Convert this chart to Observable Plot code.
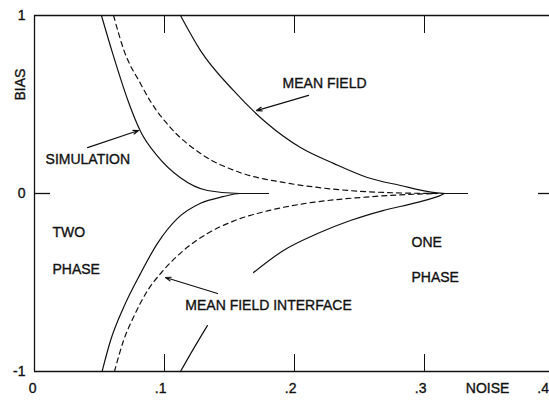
<!DOCTYPE html>
<html><head><meta charset="utf-8">
<script src="https://cdn.jsdelivr.net/npm/d3@7"></script>
<script src="https://cdn.jsdelivr.net/npm/@observablehq/plot@0.6"></script>
<style>html,body{margin:0;padding:0;background:#fff;overflow:hidden}</style>
</head><body><div id="chart"></div>
<script>
// Axis ticks
const xTicks = [0, 0.1, 0.2, 0.3];
const xTickLabels = ["0", ".1", ".2", ".3"];
const xEdgeTick = [0.4];
const xEdgeLabel = [".4"];
const yTicks = [-1, 0, 1];
const yTickLabels = ["-1", "0", "1"];
const innerXTicks = [0.1, 0.2, 0.3];

// Simulation (solid, inner)
const simTopX = [0.0515, 0.060, 0.072, 0.0815, 0.0946, 0.112, 0.133, 0.158, 0.18];
const simTopY = [1, 0.79, 0.52, 0.35, 0.21, 0.09, 0.017, 0, 0];
const simBotX = [0.052, 0.0585, 0.0685, 0.0815, 0.0946, 0.11, 0.1277, 0.145, 0.158, 0.18];
const simBotY = [-1, -0.826, -0.64, -0.45, -0.28, -0.14, -0.055, -0.018, 0, 0];

// Mean field interface (dashed)
const mfiTopX = [0.0608, 0.069, 0.0815, 0.089, 0.1046, 0.1277, 0.158, 0.1915, 0.218, 0.243, 0.268, 0.31];
const mfiTopY = [1, 0.80, 0.618, 0.52, 0.37, 0.225, 0.118, 0.062, 0.034, 0.016, 0.006, 0];
const mfiBotX = [0.0615, 0.0685, 0.076, 0.087, 0.099, 0.1146, 0.133, 0.153, 0.179, 0.2046, 0.23, 0.255, 0.28, 0.31];
const mfiBotY = [-1, -0.826, -0.697, -0.545, -0.433, -0.32, -0.225, -0.155, -0.098, -0.06, -0.036, -0.02, -0.008, 0];

// Mean field (solid, outer); lower branch broken around the label
const mfTopX = [0.1123, 0.1277, 0.153, 0.179, 0.2046, 0.230, 0.256, 0.2815, 0.305, 0.316, 0.333];
const mfTopY = [1, 0.803, 0.579, 0.393, 0.258, 0.169, 0.09, 0.045, 0.008, 0, 0];
const mfBotX = [0.1123, 0.1225, 0.133, 0.15, 0.1685, 0.1915, 0.2177, 0.243, 0.268, 0.2946, 0.312, 0.316, 0.333];
const mfBotY = [-1, -0.87, -0.742, NaN, -0.444, -0.32, -0.225, -0.152, -0.096, -0.05, -0.012, 0, 0];

// Annotations (data units)
const labelText = ["MEAN FIELD", "SIMULATION", "MEAN FIELD INTERFACE", "TWO", "PHASE", "ONE", "PHASE"];
const labelX = [0.1908, 0.0085, 0.116, 0.0138, 0.0138, 0.29, 0.29];
const labelY = [0.618, 0.191, -0.629, -0.219, -0.427, -0.275, -0.472];
const arrowX1 = [0.2108, 0.0408, 0.1408];
const arrowY1 = [0.551, 0.258, -0.562];
const arrowX2 = [0.1708, 0.080, 0.1008];
const arrowY2 = [0.466, 0.354, -0.472];

const toPts = (xs, ys) => xs.map((x, i) => ({x, y: ys[i]}));
const labels = labelText.map((t, i) => ({t, x: labelX[i], y: labelY[i]}));
const arrows = arrowX1.map((x1, i) => ({x1, y1: arrowY1[i], x2: arrowX2[i], y2: arrowY2[i]}));

const ink = "#111";
const lineOpts = {x: "x", y: "y", stroke: ink, strokeWidth: 1.2, curve: "monotone-x"};
const txt = {fontSize: 14, fill: ink, stroke: ink, strokeWidth: 0.35};

const chart = Plot.plot({
  width: 549, height: 402,
  marginLeft: 34, marginRight: 0, marginTop: 15, marginBottom: 31,
  style: {fontFamily: "'Liberation Sans', Arial, sans-serif", fontSize: "14px", background: "#fff", color: ink},
  x: {domain: [0, 0.4], range: [34, 554], axis: null},
  y: {domain: [-1, 1], axis: null},
  marks: [
    Plot.ruleY([1, -1], {stroke: ink, strokeWidth: 1.3}),
    Plot.ruleX([0], {stroke: ink, strokeWidth: 1.3}),
    Plot.tickX(innerXTicks, {x: d => d, insetBottom: 338, stroke: ink}),
    Plot.tickX(innerXTicks, {x: d => d, insetTop: 339, stroke: ink}),
    Plot.tickY([0], {y: d => d, insetRight: 499, stroke: ink, strokeWidth: 1.3}),
    Plot.tickY([0], {y: d => d, insetLeft: 504, stroke: ink, strokeWidth: 1.3}),
    Plot.text(xTicks, {x: d => d, text: (d, i) => xTickLabels[i], frameAnchor: "bottom", dy: 21, textAnchor: "end", dx: 2, ...txt}),
    Plot.text(xEdgeTick, {x: d => d, text: (d, i) => xEdgeLabel[i], frameAnchor: "bottom", dy: 21, textAnchor: "end", dx: -5.5, ...txt}),
    Plot.text(yTicks, {y: d => d, text: (d, i) => yTickLabels[i], frameAnchor: "left", textAnchor: "end", dx: -9, ...txt}),
    Plot.text(["NOISE"], {x: () => 0.3485, frameAnchor: "bottom", dy: 21, ...txt}),
    Plot.text(["BIAS"], {x: () => 0, y: () => 0.612, rotate: -90, dx: -14, ...txt}),
    Plot.line(toPts(simTopX, simTopY), lineOpts),
    Plot.line(toPts(simBotX, simBotY), lineOpts),
    Plot.line(toPts(mfTopX, mfTopY), lineOpts),
    Plot.line(toPts(mfBotX, mfBotY), lineOpts),
    Plot.line(toPts(mfiTopX, mfiTopY), {...lineOpts, strokeDasharray: "5,4"}),
    Plot.line(toPts(mfiBotX, mfiBotY), {...lineOpts, strokeDasharray: "5,4"}),
    Plot.arrow(arrows, {x1: "x1", y1: "y1", x2: "x2", y2: "y2", stroke: ink, strokeWidth: 1.2, headLength: 7, headAngle: 40}),
    Plot.text(labels, {x: "x", y: "y", text: "t", textAnchor: "start", ...txt})
  ]
});
document.getElementById("chart").appendChild(chart);
</script>
</body></html>
